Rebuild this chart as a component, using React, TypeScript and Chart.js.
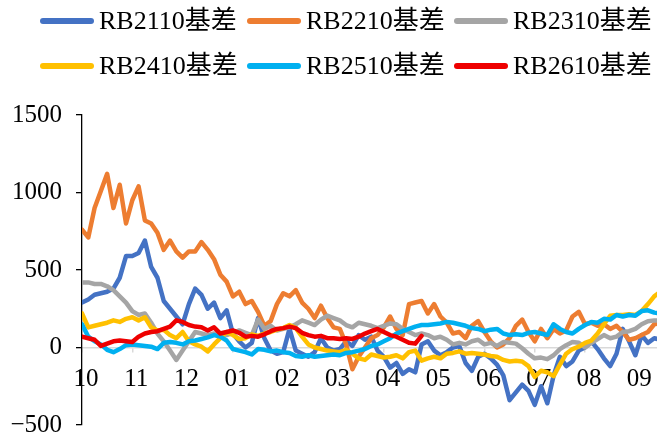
import React, { useEffect, useRef } from 'react';
import { Chart, registerables } from 'chart.js';

Chart.register(...registerables);

// Month tick labels (one per month, starting October)
const monthLabels = ['10', '11', '12', '01', '02', '03', '04', '05', '06', '07', '08', '09'];

const seriesNames = ['RB2110基差', 'RB2210基差', 'RB2310基差', 'RB2410基差', 'RB2510基差', 'RB2610基差'];
const seriesColors = ['#4472C4', '#ED7D31', '#A5A5A5', '#FFC000', '#00B0F0', '#EE0000'];

// Samples are every 1/8 of a month, starting at the October tick.
const rb2110 = [
  290, 310, 340, 350, 360, 380, 450, 590, 590, 610,
  690, 520, 450, 300, 250, 200, 150, 280, 380, 340,
  250, 290, 190, 240, 90, 40, 0, 30, 190, 60,
  -20, -40, -30, 120, -20, -40, -60, -30, 60, 0,
  -20, -10, 40, 10, 80, 50, 70, -20, -60, -130,
  -100, -170, -140, -160, 20, 40, -20, -50, -30, 0,
  10, -100, -150, -60, -40, -70, -110, -180, -340, -290,
  -240, -280, -370, -250, -360, -180, -60, -120, -90, -20,
  0, 40, -10, -70, -120, -40, 120, 40, -50, 80,
  30, 60, 50,
];
const rb2210 = [
  760, 710, 900, 1010, 1120, 900, 1050, 800, 950, 1040,
  820, 800, 740, 630, 690, 620, 580, 620, 620, 680,
  630, 570, 470, 425, 330, 360, 280, 300, 230, 140,
  170, 280, 350, 330, 370, 290, 250, 190, 270, 190,
  130, 120, 20, -140, -60, 0, 60, 80, 130, 200,
  120, 80, 280, 290, 300, 220, 280, 200, 160, 90,
  100, 60, 140, 170, 100, 40, 0, 20, 60, 140,
  180, 100, 40, 120, 60, 120, 90, 110, 200, 230,
  150, 160, 140, 150, 120, 140, 100, 50, 60, 80,
  100, 150, 160,
];
const rb2310 = [
  420, 420, 410, 410, 395, 370, 330, 290, 235, 210,
  220, 160, 90, 40, -20, -80, -20, 40, 100, 90,
  80, 90, 85, 80, 95, 110, 95, 80, 180, 120,
  140, 110, 120, 130, 150, 175, 160, 145, 180, 205,
  190, 175, 145, 130, 160, 150, 140, 125, 140, 155,
  150, 120, 100, 80, 90, 80, 60, 70, 50, 20,
  30, 20, 40, 50, 20, 30, 10, 35, 30, 25,
  -5, -40, -70, -65, -75, -50, -10, 15, 35, 30,
  0, 30, 55, 80, 60, 70, 100, 105, 120, 150,
  170, 175, 175,
];
const rb2410 = [
  220, 130, 140, 150, 160, 175, 165, 185, 195, 175,
  195, 130, 110, 115, 80, 60, 100, 40, 20, 5,
  -25, 20, 60, 100, 80, 55, 60, 85, 75, 90,
  100, 115, 125, 145, 125, 70, 20, 0, -10, -20,
  -25, -30, -15, -40, -70, -80, -45, -55, -65, -60,
  -50, -70, -30, -20, -85, -70, -60, -70, -40, -35,
  -25, -40, -35, -40, -45, -55, -60, -80, -90, -85,
  -90, -120, -190, -150, -160, -185, -110, -40, -10, 5,
  30, 45, 90, 150, 205, 210, 210, 215, 210, 235,
  280, 330, 360,
];
const rb2510 = [
  150, 70, 40, 20, -15, -30, -10, 15, 20, 15,
  10, 5, -10, 30, 35, 30, 20, 40, 45, 55,
  65, 80, 70, 45, -10, -20, -30, -45, -10, -15,
  -25, -20, -30, -35, -55, -60, -50, -60, -55, -50,
  -45, -50, -35, -30, -20, -10, 10, 20, 40, 60,
  90, 105, 120, 135, 145, 145, 150, 155, 165, 160,
  150, 140, 125, 120, 105, 115, 120, 90, 80, 85,
  80, 95, 100, 90, 80, 150, 120, 100, 90, 120,
  145, 165, 160, 185, 180, 210, 200, 210, 205, 235,
  240, 225, 220,
];
const rb2610 = [
  70, 60, 50, 10, 25, 40, 45, 40, 35, 70,
  90, 100, 105, 120, 135, 175, 165, 145, 135, 130,
  110, 130, 90, 100, 110, 95, 70, 75, 70, 85,
  105, 120, 125, 135, 125, 95, 80, 70, 75, 60,
  60, 55, 60, 55, 70, 90, 105, 120, 100, 80,
  70, 50, 30, 25, 75,
];

const yTicks = { min: -500, max: 1500, step: 500 };
const SAMPLES_PER_MONTH = 8;
const X_MAX = 11.43;

const FONT = "'Liberation Serif', 'Times New Roman', 'Noto Sans CJK SC', serif";

const legendCols = [40, 247, 454];
const legendRows = [21, 66];

export default function App() {
  const ref = useRef<HTMLCanvasElement | null>(null);

  useEffect(() => {
    const all = [rb2110, rb2210, rb2310, rb2410, rb2510, rb2610];
    const chart = new Chart(ref.current as HTMLCanvasElement, {
      type: 'line',
      data: {
        datasets: all.map((vals, k) => ({
          label: seriesNames[k],
          data: vals.map((v, i) => ({ x: i / SAMPLES_PER_MONTH, y: v })),
          borderColor: seriesColors[k],
          backgroundColor: seriesColors[k],
          borderWidth: 4.5,
          pointRadius: 0,
          pointHoverRadius: 0,
          tension: 0,
          borderJoinStyle: 'round',
          borderCapStyle: 'round',
          order: all.length - k,
        })),
      },
      options: {
        animation: false,
        responsive: false,
        events: [],
        layout: { padding: { top: 115, bottom: 12, left: 0, right: 0 } },
        plugins: {
          legend: { display: false },
          tooltip: { enabled: false },
        },
        scales: {
          x: {
            type: 'linear',
            position: { y: 0 } as any,
            min: 0,
            max: X_MAX,
            afterFit: (s: any) => {
              s.height = 0;
              s.paddingLeft = 0;
              s.paddingRight = 0;
              s.paddingTop = 0;
              s.paddingBottom = 0;
            },
            border: { color: '#d9d9d9', width: 1.5 },
            grid: { drawOnChartArea: false, drawTicks: true, tickLength: 4, color: '#d9d9d9', lineWidth: 1.5 },
            ticks: {
              stepSize: 1,
              includeBounds: false,
              autoSkip: false,
              maxRotation: 0,
              padding: 13,
              labelOffset: 4,
              color: '#000',
              font: { family: FONT, size: 25 },
              callback: (v: any) => monthLabels[Number(v)] ?? '',
            },
          },
          y: {
            type: 'linear',
            min: yTicks.min,
            max: yTicks.max,
            afterFit: (s: any) => {
              s.width = 82;
              s.paddingTop = 0;
              s.paddingBottom = 0;
            },
            border: { color: '#000', width: 1.3 },
            grid: { drawOnChartArea: false, drawTicks: true, tickLength: 6, color: '#000', lineWidth: 1.3 },
            ticks: {
              stepSize: yTicks.step,
              padding: 14,
              color: '#000',
              font: { family: FONT, size: 25 },
              callback: (v: any) => (Number(v) < 0 ? '\u2212' + Math.abs(Number(v)) : String(v)),
            },
          },
        },
      },
    });
    return () => chart.destroy();
  }, []);

  return (
    <div
      style={{
        position: 'fixed',
        left: 0,
        top: 0,
        width: 657,
        height: 437,
        background: '#fff',
        overflow: 'hidden',
      }}
    >
      <canvas ref={ref} width={657} height={437} style={{ display: 'block', width: 657, height: 437 }} />
      {seriesNames.map((name, k) => {
        const col = k % 3;
        const row = Math.floor(k / 3);
        return (
          <div
            key={name}
            style={{
              position: 'absolute',
              left: legendCols[col],
              top: legendRows[row] - 16,
              height: 32,
              display: 'flex',
              alignItems: 'center',
              whiteSpace: 'nowrap',
            }}
          >
            <div
              style={{
                width: 54,
                height: 6,
                borderRadius: 3,
                background: seriesColors[k],
                marginRight: 5,
              }}
            />
            <span style={{ fontFamily: FONT, fontSize: 26, color: '#000', lineHeight: '32px' }}>{name}</span>
          </div>
        );
      })}
    </div>
  );
}
